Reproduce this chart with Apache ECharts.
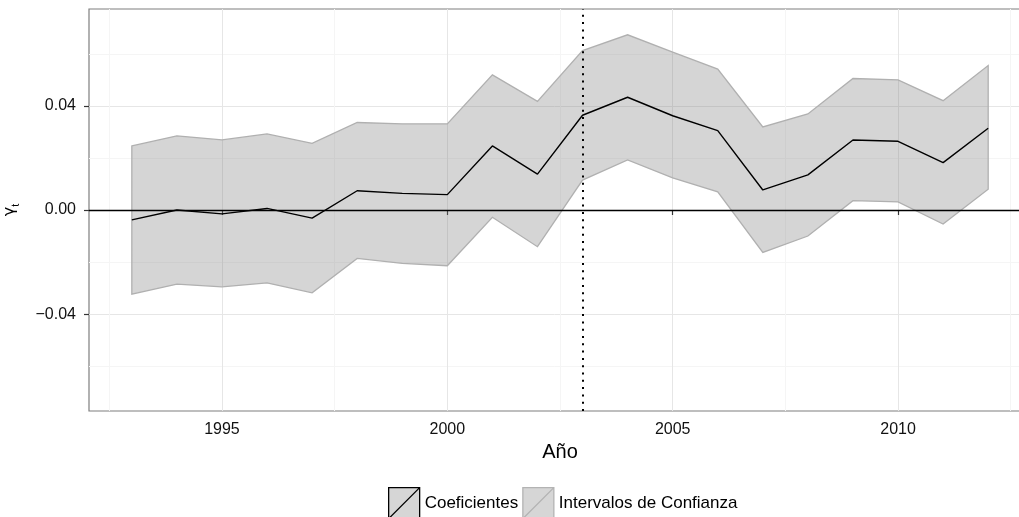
<!DOCTYPE html>
<html><head><meta charset="utf-8">
<script src="https://cdn.jsdelivr.net/npm/echarts@6/dist/echarts.min.js"></script>
<style>html,body{margin:0;padding:0;background:#fff}#c{width:1019px;height:517px}</style>
</head><body><div id="c"></div>
<script>
const years = [1993,1994,1995,1996,1997,1998,1999,2000,2001,2002,2003,2004,2005,2006,2007,2008,2009,2010,2011,2012];
const coef  = [-0.0038,0.0000,-0.0015,0.0006,-0.0031,0.0074,0.0064,0.0059,0.0246,0.0138,0.0364,0.0433,0.0362,0.0305,0.0077,0.0135,0.0269,0.0264,0.0182,0.0314];
const upper = [0.0246,0.0285,0.0269,0.0292,0.0256,0.0336,0.0331,0.0331,0.0519,0.0417,0.0612,0.0673,0.0606,0.0541,0.0319,0.0369,0.0505,0.0500,0.0420,0.0555];
const lower = [-0.0323,-0.0285,-0.0295,-0.0280,-0.0318,-0.0186,-0.0205,-0.0214,-0.0028,-0.0141,0.0115,0.0192,0.0123,0.0070,-0.0163,-0.0100,0.0036,0.0031,-0.0054,0.0080];
const xMajorTicks = [1995,2000,2005,2010];
const xMinorTicks = [1992.5,1997.5,2002.5,2007.5,2012.5];
const yMajorTicks = [-0.04,0,0.04];
const yMinorTicks = [-0.06,-0.02,0.02,0.06];
const treatYear = 2003;
const seriesNames = ['Coeficientes','Intervalos de Confianza'];

const FONT = 'Liberation Sans';
const chart = echarts.init(document.getElementById('c'), null, {renderer:'canvas'});
const fmtY = v => (v < 0 ? '\u2212' : '') + Math.abs(v).toFixed(2);

const option = {
  animation: false,
  backgroundColor: '#fff',
  textStyle: {fontFamily: FONT},
  grid: {left: 89, top: 9, right: -12, bottom: 106, show: true, borderColor: '#7f7f7f', borderWidth: 1.2, backgroundColor: 'transparent',
         containLabel: false, outerBoundsMode: 'none'},
  legend: {
    left: 388, top: 487, padding: 0, itemWidth: 31, itemHeight: 31, itemGap: 4,
    textStyle: {fontFamily: FONT, fontSize: 17, color: '#000'},
    data: [
      {name: seriesNames[0], icon: 'path://M0,0 L30,0 L30,30 L0,30 Z M0,30 L30,0', itemStyle: {color: '#d6d6d6', borderColor: '#000', borderWidth: 1.3}},
      {name: seriesNames[1], icon: 'path://M0,0 L30,0 L30,30 L0,30 Z M0,30 L30,0', itemStyle: {color: '#d6d6d6', borderColor: '#b3b3b3', borderWidth: 1.3}}
    ]
  },
  xAxis: [
    {type: 'value', min: 1992.05, max: 2012.95, position: 'bottom',
     name: 'Año', nameLocation: 'middle', nameGap: 28,
     nameTextStyle: {fontFamily: FONT, fontSize: 20, color: '#000'},
     axisLine: {show: false},
     axisTick: {show: true, customValues: xMajorTicks, length: 5, lineStyle: {color: '#333', width: 1.2}},
     axisLabel: {customValues: xMajorTicks, margin: 11, fontSize: 16, color: '#111', fontFamily: FONT, formatter: v => String(v)},
     splitLine: {show: true, lineStyle: {color: '#e6e6e6', width: 1}}},
    {type: 'value', min: 1992.05, max: 2012.95, position: 'bottom',
     axisLine: {show: false}, axisTick: {show: false, customValues: xMinorTicks},
     axisLabel: {show: false, customValues: xMinorTicks},
     splitLine: {show: true, lineStyle: {color: '#f5f5f5', width: 1}}}
  ],
  yAxis: [
    {type: 'value', min: -0.0772, max: 0.0772,
     name: '{g|\u03b3}{t|t}', nameLocation: 'middle', nameGap: 68, nameRotate: 90,
     nameTextStyle: {rich: {
       g: {fontFamily: 'DejaVu Sans', fontSize: 16, color: '#000', verticalAlign: 'bottom', padding: [0,0,3,0]},
       t: {fontFamily: FONT, fontSize: 11, color: '#000', verticalAlign: 'bottom'}}},
     axisLine: {show: false},
     axisTick: {show: true, customValues: yMajorTicks, length: 5, lineStyle: {color: '#333', width: 1.2}},
     axisLabel: {customValues: yMajorTicks, margin: 13, fontSize: 16, color: '#111', fontFamily: FONT, formatter: fmtY},
     splitLine: {show: true, lineStyle: {color: '#e6e6e6', width: 1}}},
    {type: 'value', min: -0.0772, max: 0.0772,
     axisLine: {show: false}, axisTick: {show: false, customValues: yMinorTicks},
     axisLabel: {show: false, customValues: yMinorTicks},
     splitLine: {show: true, lineStyle: {color: '#f5f5f5', width: 1}}}
  ],
  series: [
    {
      name: seriesNames[1], type: 'custom', z: 2,
      data: years.map((y, i) => [y, lower[i], upper[i]]),
      encode: {x: 0, y: [1, 2]},
      itemStyle: {color: '#d6d6d6'},
      renderItem: function (params, api) {
        if (params.dataIndex !== 0) return null;
        const top = years.map((y, i) => api.coord([y, upper[i]]));
        const bot = years.map((y, i) => api.coord([y, lower[i]])).reverse();
        return {type: 'polygon', shape: {points: top.concat(bot)},
                style: {fill: 'rgba(128,128,128,0.33)', stroke: '#b0b0b0', lineWidth: 1.3, lineJoin: 'miter'}};
      }
    },
    {name: seriesNames[0], type: 'line', z: 5, symbol: 'none',
     data: years.map((y, i) => [y, coef[i]]), lineStyle: {color: '#000', width: 1.4},
     itemStyle: {color: '#000'},
     markLine: {silent: true, symbol: 'none', label: {show: false}, animation: false,
       data: [
         {yAxis: 0, lineStyle: {color: '#000', width: 1.4, type: 'solid'}},
         {xAxis: treatYear, lineStyle: {color: '#000', width: 2, type: [2, 5.3]}}
       ]}}
  ]
};
chart.setOption(option);
</script></body></html>
